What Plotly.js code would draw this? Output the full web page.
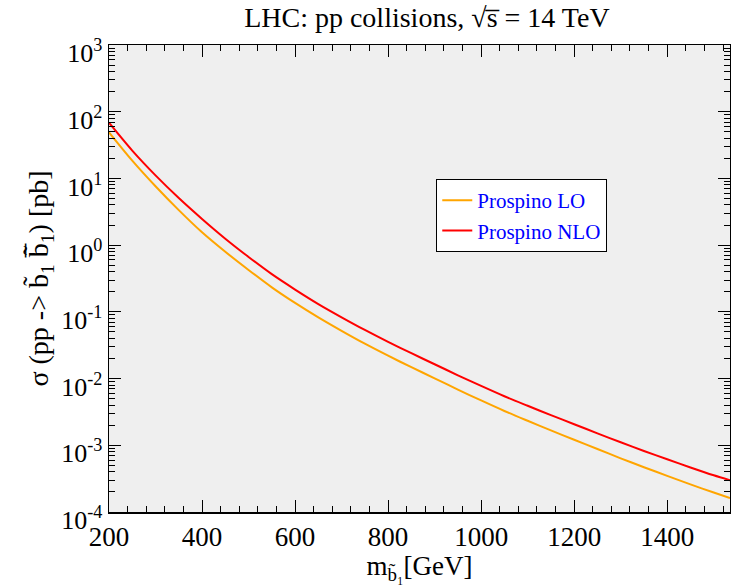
<!DOCTYPE html>
<html>
<head>
<meta charset="utf-8">
<script src="https://cdn.plot.ly/plotly-3.0.1.min.js"></script>
<style>html,body{margin:0;padding:0;background:#fff;}#chart{width:731px;height:585px;}</style>
</head>
<body>
<div id="chart"></div>
<script>
// sbottom mass [GeV]
const mass = [200,250,300,350,400,450,500,550,600,650,700,750,800,850,900,950,1000,1050,1100,1150,1200,1250,1300,1350,1400,1450,1500,1535];
// cross sections [pb]
const sigmaLO = [49.1,18.5,7.64,3.35,1.56,0.796,0.425,0.233,0.136,0.0826,0.0519,0.0333,0.0220,0.0148,0.0101,0.00684,0.00470,0.00327,0.00233,0.00167,0.00121,0.000879,0.000638,0.000469,0.000348,0.000259,0.000196,0.000162];
const sigmaNLO = [68.4,26.1,11.1,5.08,2.47,1.25,0.665,0.367,0.216,0.131,0.0830,0.0536,0.0355,0.0240,0.0164,0.0112,0.00776,0.00543,0.00391,0.00283,0.00207,0.00151,0.00111,0.000822,0.000617,0.000465,0.000355,0.000299];
const seriesNames = ["Prospino LO","Prospino NLO"];
const yTickVals = [1e-4,1e-3,1e-2,1e-1,1,10,100,1000];
const yTickText = ["10<sup>-4</sup>","10<sup>-3</sup>","10<sup>-2</sup>","10<sup>-1</sup>","10<sup>0</sup>","10<sup>1</sup>","10<sup>2</sup>","10<sup>3</sup>"];

const serif = "Liberation Serif, Times New Roman, serif";
const traces = [
  {x: mass, y: sigmaLO, name: seriesNames[0], mode: "lines", line: {color: "#FFA500", width: 2, shape: "spline", smoothing: 0.8}},
  {x: mass, y: sigmaNLO, name: seriesNames[1], mode: "lines", line: {color: "#FF0000", width: 2, shape: "spline", smoothing: 0.8}}
];
const layout = {
  width: 731, height: 585,
  margin: {l: 109, r: 1, t: 45, b: 73},
  paper_bgcolor: "#ffffff",
  plot_bgcolor: "#efefef",
  font: {family: serif, color: "#000"},
  title: {text: "LHC: pp collisions, \u221As\u0305 = 14 TeV", x: 0.584, xanchor: "center", y: 0.971, yanchor: "middle", font: {size: 28, family: serif}},
  xaxis: {
    range: [200, 1535], dtick: 200, tick0: 200,
    showgrid: false, zeroline: false,
    showline: true, linecolor: "#000", linewidth: 1.5, mirror: "allticks",
    ticks: "inside", ticklen: 12, tickwidth: 1, tickcolor: "#000",
    minor: {dtick: 40, ticks: "inside", ticklen: 6, tickcolor: "#000", showgrid: false},
    tickfont: {size: 27, family: serif},
    title: {text: "m<sub>b\u0303\u2081</sub>[GeV]", font: {size: 27, family: serif}, standoff: 0}
  },
  yaxis: {
    type: "log", range: [-4, 3],
    tickvals: yTickVals, ticktext: yTickText,
    showgrid: false, zeroline: false,
    showline: true, linecolor: "#000", linewidth: 1.5, mirror: "allticks",
    ticks: "inside", ticklen: 12, tickwidth: 1, tickcolor: "#000",
    minor: {dtick: "D1", ticks: "inside", ticklen: 6, tickcolor: "#000", showgrid: false},
    tickfont: {size: 26, family: serif},
    ticklabelshift: 8,
    title: {text: "\u03C3 (pp -> b\u0303<sub>1</sub> b\u0303\u0305<sub>1</sub>) [pb]", font: {size: 28, family: serif}, standoff: 4}
  },
  legend: {
    x: 0.527, y: 0.713, xanchor: "left", yanchor: "top",
    bgcolor: "#ffffff", bordercolor: "#000", borderwidth: 1,
    font: {size: 21, family: serif, color: "#0000FF"},
    itemwidth: 30, tracegroupgap: 0
  },
  showlegend: true
};
Plotly.newPlot("chart", traces, layout, {displayModeBar: false, staticPlot: true});
</script>
</body>
</html>
